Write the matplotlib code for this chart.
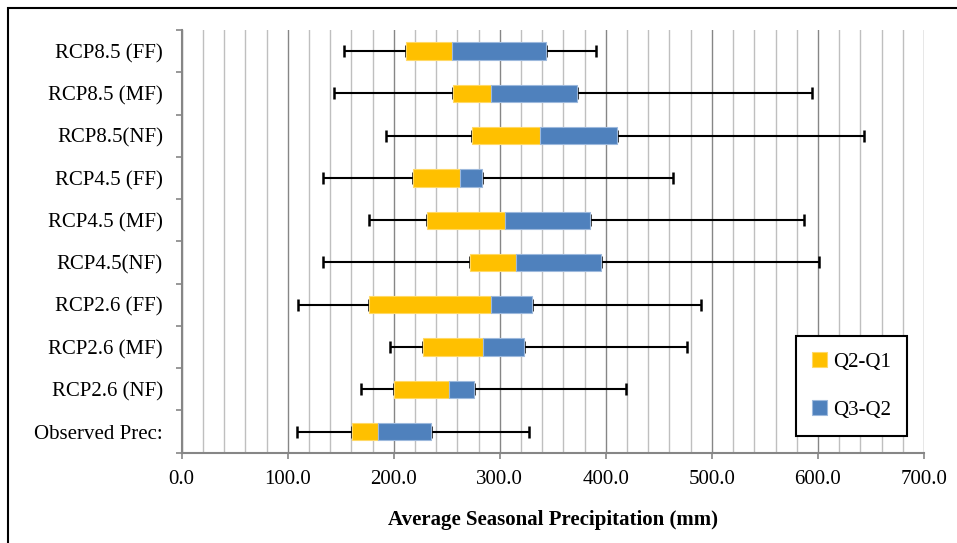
import matplotlib.pyplot as plt
from matplotlib.patches import Rectangle
from matplotlib.ticker import MultipleLocator, FormatStrFormatter
import numpy as np

# scenarios, bottom to top
labels = ["Observed Prec:", "RCP2.6 (NF)", "RCP2.6 (MF)", "RCP2.6 (FF)",
          "RCP4.5(NF)", "RCP4.5 (MF)", "RCP4.5 (FF)",
          "RCP8.5(NF)", "RCP8.5 (MF)", "RCP8.5 (FF)"]
p_min = [108.3, 169.5, 196.2, 109.8, 133.7, 176.7, 133.7, 192.7, 143.7, 153.5]
q1 = [160.7, 200.6, 227.3, 176.7, 271.8, 231.3, 217.8, 274.0, 255.8, 211.2]
q2 = [185.2, 251.7, 284.1, 291.3, 315.1, 304.5, 262.1, 337.5, 292.0, 254.9]
q3 = [235.1, 275.3, 322.7, 330.6, 395.2, 385.5, 282.8, 410.6, 373.0, 343.4]
p_max = [327.4, 419.1, 476.6, 489.4, 601.2, 586.4, 463.0, 643.2, 594.3, 391.1]

plt.rcParams['font.family'] = ['Liberation Serif', 'DejaVu Serif']

fig = plt.figure(figsize=(9.57, 5.43), dpi=100)
ax = fig.add_axes([181.7 / 957, 1 - 452.7 / 543, (924 - 181.7) / 957, (452.7 - 30) / 543])

y = np.arange(len(labels))
q1 = np.array(q1)
q2 = np.array(q2)
q3 = np.array(q3)
lo = q1 - np.array(p_min)
hi = np.array(p_max) - q3

h = 0.41
ax.barh(y, q2 - q1, left=q1, height=h, color='#FFC000', edgecolor='#FFD966',
        linewidth=0.8, label='Q2-Q1', zorder=3)
ax.barh(y, q3 - q2, left=q2, height=h, color='#4F81BD', edgecolor='#9DB9DD',
        linewidth=0.8, label='Q3-Q2', zorder=3)

# whiskers
ax.errorbar(q1, y, xerr=[lo, np.zeros_like(lo)], fmt='none', ecolor='black',
            elinewidth=1.5, capsize=4, capthick=1.8, zorder=2)
ax.errorbar(q3, y, xerr=[np.zeros_like(hi), hi], fmt='none', ecolor='black',
            elinewidth=1.5, capsize=4, capthick=1.8, zorder=2)

ax.set_xlim(0, 700)
ax.set_ylim(-0.5, len(labels) - 0.5)
ax.xaxis.set_major_locator(MultipleLocator(100))
ax.xaxis.set_minor_locator(MultipleLocator(20))
ax.xaxis.set_major_formatter(FormatStrFormatter('%.1f'))
ax.grid(axis='x', which='minor', color='#BFBFBF', linewidth=1.0, zorder=0)
ax.grid(axis='x', which='major', color='#868686', linewidth=1.0, zorder=0)
ax.set_axisbelow(True)

ax.set_yticks(y)
ax.set_yticklabels(labels)
ax.set_yticks(np.arange(-0.5, len(labels), 1.0), minor=True)
ax.tick_params(axis='y', which='major', length=0, pad=13.5, labelsize=15)
ax.tick_params(axis='y', which='minor', length=4.5, width=1.2, color='#868686')
ax.tick_params(axis='x', which='major', length=4.5, width=1.2, color='#868686',
               labelsize=15, pad=8)
ax.tick_params(axis='x', which='minor', length=0)

for s in ['top', 'right']:
    ax.spines[s].set_visible(False)
for s in ['left', 'bottom']:
    ax.spines[s].set_color('#868686')
    ax.spines[s].set_linewidth(1.5)

ax.set_xlabel('Average Seasonal Precipitation (mm)', fontsize=15,
              fontweight='bold', labelpad=15)

leg = ax.legend(loc='lower right', bbox_to_anchor=(907 / 957, 1 - 436 / 543),
                bbox_transform=fig.transFigure, fontsize=15, frameon=True,
                fancybox=False, edgecolor='black', handlelength=0.7,
                handleheight=0.7, labelspacing=1.35, borderpad=0.78,
                handletextpad=0.3, borderaxespad=0)
leg.get_frame().set_linewidth(1.5)
leg.get_frame().set_alpha(1)

# outer frame of the original picture
fig.patches.append(Rectangle((8 / 957, -0.2), 1.5, 1.2 - 8 / 543, transform=fig.transFigure,
                             fill=False, edgecolor='black', linewidth=1.5))

fig.savefig('out.png', dpi=100)
